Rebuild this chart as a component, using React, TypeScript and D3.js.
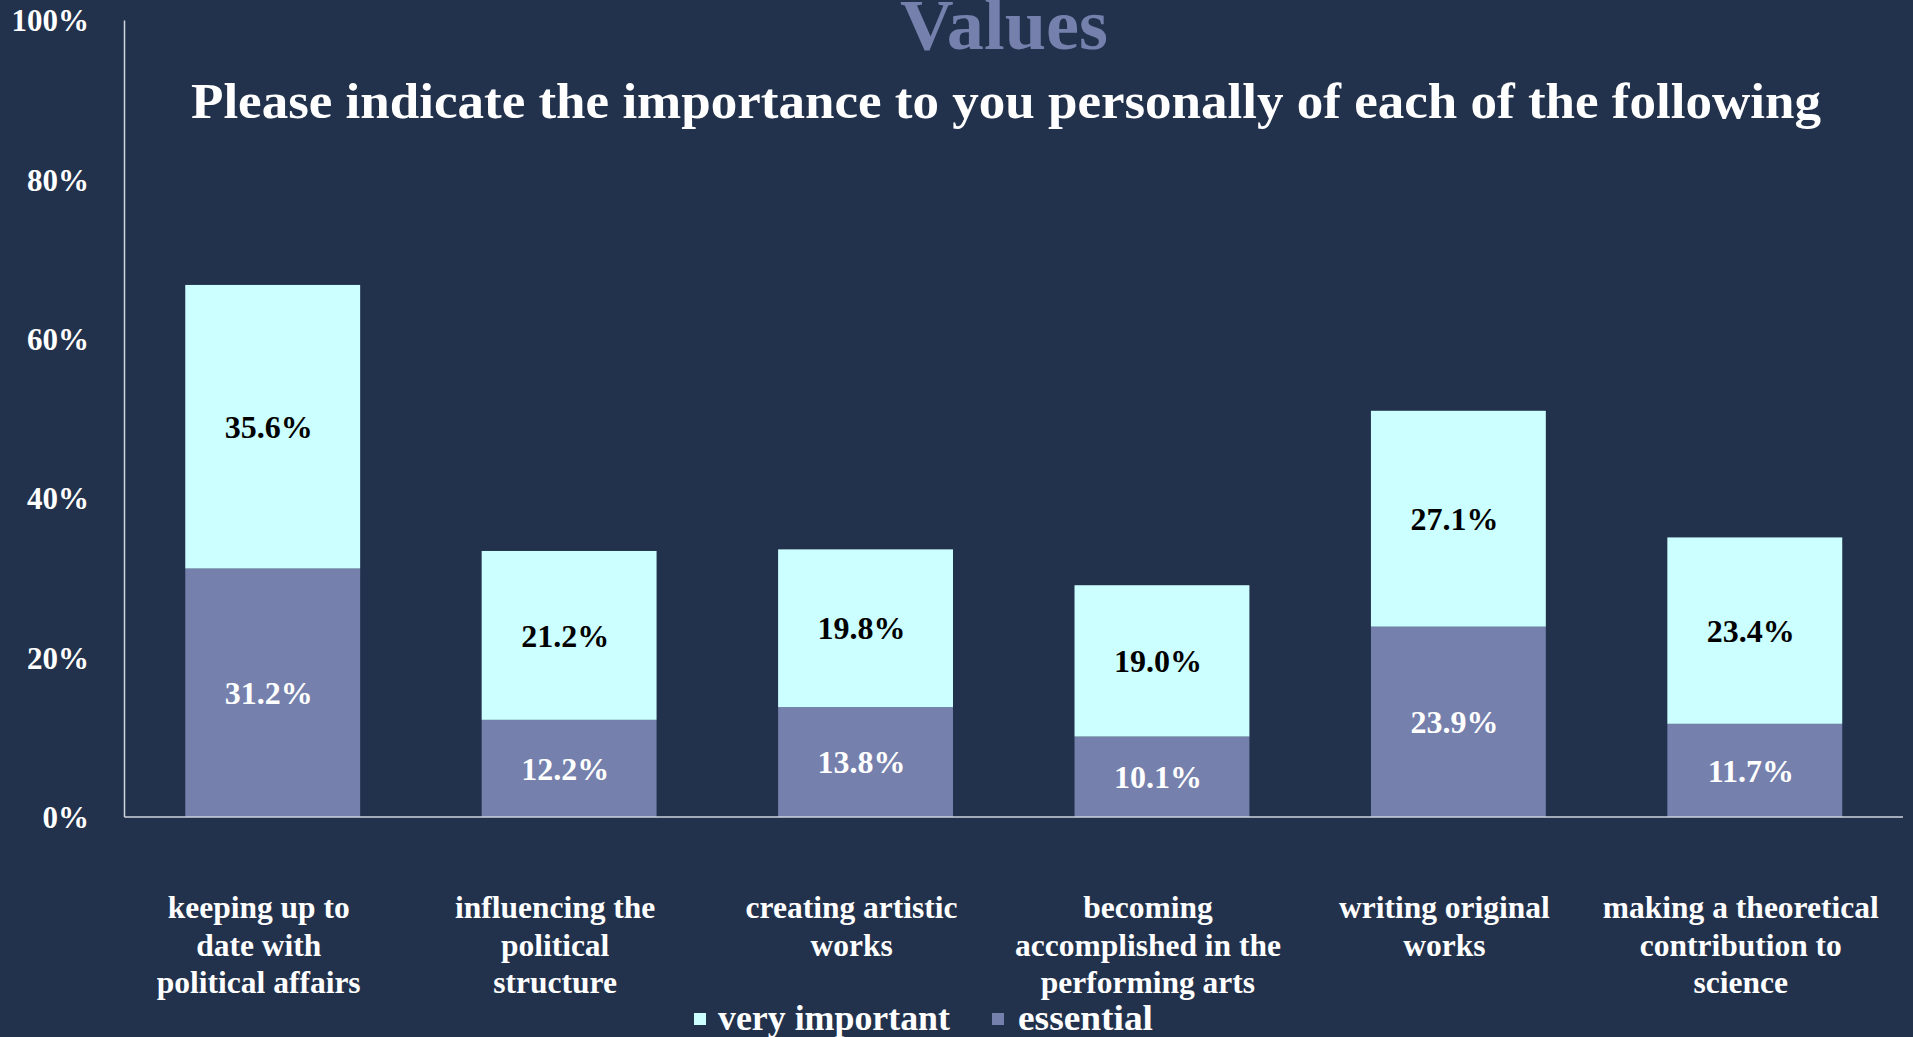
import React, { useEffect, useRef } from "react";
import * as d3 from "d3";

const categories: string[][] = [
  ["keeping up to", "date with", "political affairs"],
  ["influencing the", "political", "structure"],
  ["creating artistic", "works"],
  ["becoming", "accomplished in the", "performing arts"],
  ["writing original", "works"],
  ["making a theoretical", "contribution to", "science"],
];
const essential = [31.2, 12.2, 13.8, 10.1, 23.9, 11.7];
const veryImportant = [35.6, 21.2, 19.8, 19.0, 27.1, 23.4];
const yTicks = [0, 20, 40, 60, 80, 100];
const seriesNames = ["very important", "essential"];
const titleText = "Values";
const subtitleText = "Please indicate the importance to you personally of each of the following";

const W = 1913;
const H = 1037;
const BG = "#22324D";
const CYAN = "#CCFFFF";
const PURPLE = "#7580AD";
const FONT = "'Liberation Serif', 'DejaVu Serif', serif";

export default function App() {
  const ref = useRef<SVGSVGElement | null>(null);

  useEffect(() => {
    document.body.style.margin = "0";
    document.body.style.overflow = "hidden";
    document.body.style.background = BG;
    const svg = d3.select(ref.current);
    svg.selectAll("*").remove();

    const left = 124.5;
    const right = 1903;
    const top = 20.5;
    const bottom = 817;

    const x = d3
      .scaleBand<number>()
      .domain(d3.range(categories.length))
      .range([left, right])
      .paddingInner(0.41)
      .paddingOuter(0.205);
    const y = d3.scaleLinear().domain([0, 100]).range([bottom, top]);

    svg.append("rect").attr("width", W).attr("height", H).attr("fill", BG);

    // title
    svg
      .append("text")
      .attr("x", 1004)
      .attr("y", 49)
      .attr("text-anchor", "middle")
      .attr("font-family", FONT)
      .attr("font-weight", "bold")
      .attr("font-size", 72)
      .attr("fill", PURPLE)
      .attr("textLength", 208)
      .attr("lengthAdjust", "spacingAndGlyphs")
      .text(titleText);

    svg
      .append("text")
      .attr("x", 1006)
      .attr("y", 118)
      .attr("text-anchor", "middle")
      .attr("font-family", FONT)
      .attr("font-weight", "bold")
      .attr("font-size", 50)
      .attr("fill", "#FFFFFF")
      .attr("textLength", 1630)
      .attr("lengthAdjust", "spacingAndGlyphs")
      .text(subtitleText);

    // y ticks
    svg
      .append("g")
      .selectAll("text")
      .data(yTicks)
      .join("text")
      .attr("x", 89)
      .attr("y", (d) => y(d))
      .attr("dy", "0.35em")
      .attr("text-anchor", "end")
      .attr("font-family", FONT)
      .attr("font-weight", "bold")
      .attr("font-size", 31)
      .attr("fill", "#FFFFFF")
      .text((d) => `${d}%`);

    // bars
    const g = svg.append("g");
    categories.forEach((_, i) => {
      const e = essential[i];
      const v = veryImportant[i];
      g.append("rect")
        .attr("x", x(i)!)
        .attr("width", x.bandwidth())
        .attr("y", y(e))
        .attr("height", y(0) - y(e))
        .attr("fill", PURPLE);
      g.append("rect")
        .attr("x", x(i)!)
        .attr("width", x.bandwidth())
        .attr("y", y(e + v))
        .attr("height", y(e) - y(e + v))
        .attr("fill", CYAN);
      const cx = x(i)! + x.bandwidth() / 2 - 4;
      g.append("text")
        .attr("x", cx)
        .attr("y", y(e / 2))
        .attr("dy", "0.35em")
        .attr("text-anchor", "middle")
        .attr("font-family", FONT)
        .attr("font-weight", "bold")
        .attr("font-size", 32)
        .attr("fill", "#FFFFFF")
        .text(`${e.toFixed(1)}%`);
      g.append("text")
        .attr("x", cx)
        .attr("y", y(e + v / 2))
        .attr("dy", "0.35em")
        .attr("text-anchor", "middle")
        .attr("font-family", FONT)
        .attr("font-weight", "bold")
        .attr("font-size", 32)
        .attr("fill", "#000000")
        .text(`${v.toFixed(1)}%`);
    });

    // axes lines
    svg
      .append("line")
      .attr("x1", left)
      .attr("x2", left)
      .attr("y1", top)
      .attr("y2", bottom)
      .attr("stroke", "#D0D4DC")
      .attr("stroke-width", 1.5);
    svg
      .append("line")
      .attr("x1", left)
      .attr("x2", right)
      .attr("y1", bottom)
      .attr("y2", bottom)
      .attr("stroke", "#D0D4DC")
      .attr("stroke-width", 1.5);

    // category labels
    categories.forEach((lines, i) => {
      const cx = x(i)! + x.bandwidth() / 2 - 14;
      const t = svg
        .append("text")
        .attr("text-anchor", "middle")
        .attr("font-family", FONT)
        .attr("font-weight", "bold")
        .attr("font-size", 31.5)
        .attr("fill", "#FFFFFF");
      lines.forEach((ln, j) => {
        t.append("tspan")
          .attr("x", cx)
          .attr("y", 918 + j * 37.5)
          .text(ln);
      });
    });

    // legend
    const legendItems = [
      { name: seriesNames[0], color: CYAN, sx: 694, tx: 718, len: 232 },
      { name: seriesNames[1], color: PURPLE, sx: 992, tx: 1018, len: 135 },
    ];
    legendItems.forEach((it) => {
      svg
        .append("rect")
        .attr("x", it.sx)
        .attr("y", 1013)
        .attr("width", 12)
        .attr("height", 12)
        .attr("fill", it.color);
      svg
        .append("text")
        .attr("x", it.tx)
        .attr("y", 1030)
        .attr("font-family", FONT)
        .attr("font-weight", "bold")
        .attr("font-size", 35)
        .attr("fill", "#FFFFFF")
        .attr("textLength", it.len)
        .attr("lengthAdjust", "spacingAndGlyphs")
        .text(it.name);
    });
  }, []);

  return <svg ref={ref} width={W} height={H} style={{ display: "block" }} />;
}
